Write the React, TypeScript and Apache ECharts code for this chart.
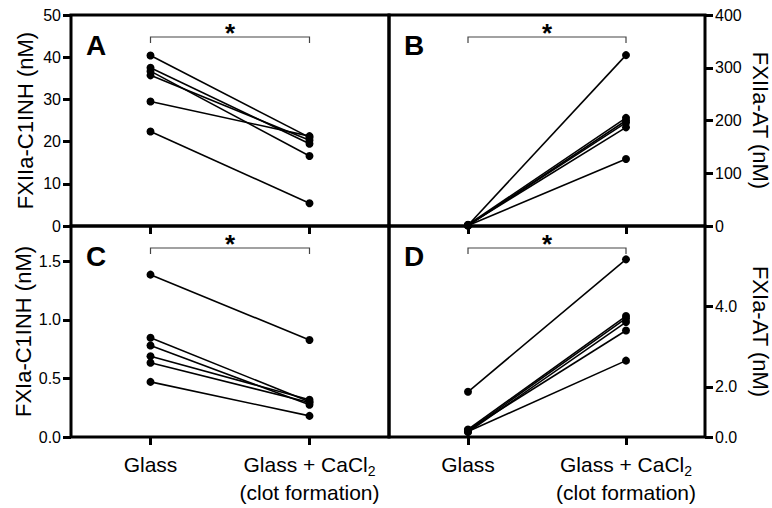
import React, { useEffect, useRef } from "react";
import * as echarts from "echarts";

// ---------- data ----------
const categories = ["Glass", "Glass + CaCl2\n(clot formation)"];

// Panel A: FXIIa-C1INH (nM)
const aGlass = [40.4, 37.5, 36.7, 35.7, 29.5, 22.4];
const aClot = [21.0, 19.5, 16.6, 20.3, 21.3, 5.4];
// Panel B: FXIIa-AT (nM)
const bGlass = [1.5, 2.5, 0.8, 1.2, 2.0, 1.0];
const bClot = [324, 205, 200, 196, 187, 127];
// Panel C: FXIa-C1INH (nM)
const cGlass = [1.385, 0.847, 0.781, 0.689, 0.633, 0.47];
const cClot = [0.827, 0.3, 0.275, 0.318, 0.294, 0.18];
// Panel D: FXIa-AT (nM) (two-segment axis: 0-2 compressed)
const dGlass = [1.8, 0.3, 0.25, 0.2, 0.28, 0.22];
const dClot = [5.17, 3.76, 3.7, 3.61, 3.4, 2.65];

const aTicks = [0, 10, 20, 30, 40, 50];
const bTicks = [0, 100, 200, 300, 400];
const cTicks = [0, 0.5, 1.0, 1.5];
const dTicks = [0, 2, 4];

const panelLetters = ["A", "B", "C", "D"];
const axisNames = ["FXIIa-C1INH (nM)", "FXIIa-AT (nM)", "FXIa-C1INH (nM)", "FXIa-AT (nM)"];

// ---------- two-segment axis for panel D (like GraphPad Prism) ----------
const D_BREAK = 2;
const D_LOW_FACTOR = 0.625; // lower segment 0..2 occupies 1.25 axis units
const dScale = (v: number) => (v <= D_BREAK ? v * D_LOW_FACTOR : D_BREAK * D_LOW_FACTOR + (v - D_BREAK));
const dInverse = (u: number) =>
  u <= D_BREAK * D_LOW_FACTOR ? u / D_LOW_FACTOR : u - D_BREAK * D_LOW_FACTOR + D_BREAK;

const FONT = "'Liberation Sans', Arial, Helvetica, sans-serif";

export default function App() {
  const ref = useRef<HTMLDivElement>(null);

  useEffect(() => {
    if (!ref.current) return;
    const chart = echarts.init(ref.current, undefined, { renderer: "svg" });

    const grids = [
      { left: 71, top: 15, width: 318, height: 211 },
      { left: 389, top: 15, width: 316, height: 211 },
      { left: 71, top: 226, width: 318, height: 211 },
      { left: 389, top: 226, width: 316, height: 211 },
    ].map((g) => ({
      ...g,
      show: true,
      borderColor: "#000",
      borderWidth: 3,
      backgroundColor: "transparent",
      outerBoundsMode: "none",
      containLabel: false,
    }));

    const xAxes = [0, 1, 2, 3].map((i) => ({
      type: "category",
      gridIndex: i,
      data: categories,
      boundaryGap: true,
      axisLine: { show: false },
      axisTick: { show: true, alignWithLabel: true, interval: 0, length: 8, lineStyle: { color: "#000", width: 3 } },
      axisLabel: {
        show: i >= 2,
        interval: 0,
        hideOverlap: false,
        color: "#000",
        fontFamily: FONT,
        fontSize: 21,
        lineHeight: 28,
        margin: 13,
        formatter: (v: string) => v.replace("CaCl2", "CaCl{sub|2}"),
        rich: {
          sub: { fontFamily: FONT, fontSize: 14, lineHeight: 14, verticalAlign: "bottom", color: "#000" },
        },
      },
      splitLine: { show: false },
    }));

    const ticksPer = [aTicks, bTicks, cTicks, dTicks.map(dScale)];
    const maxPer = [50, 400, 1.8, dScale(6)];
    const fmtPer = [
      (v: number) => String(v),
      (v: number) => String(v),
      (v: number) => v.toFixed(1),
      (v: number) => dInverse(v).toFixed(1),
    ];

    const yAxes = [0, 1, 2, 3].map((i) => {
      const right = i % 2 === 1;
      return {
        type: "value",
        gridIndex: i,
        position: right ? "right" : "left",
        min: 0,
        max: maxPer[i],
        axisLine: { show: false },
        splitLine: { show: false },
        axisTick: {
          show: true,
          length: 8,
          customValues: ticksPer[i],
          lineStyle: { color: "#000", width: 3 },
        },
        axisLabel: {
          color: "#000",
          fontFamily: FONT,
          fontSize: 16,
          margin: 10,
          customValues: ticksPer[i],
          formatter: fmtPer[i],
        },
        name: axisNames[i],
        nameLocation: "middle",
        nameGap: right ? 44 : 35,
        nameRotate: right ? -90 : 90,
        nameTextStyle: { color: "#000", fontFamily: FONT, fontSize: 22 },
      };
    });

    const panels = [
      [aGlass, aClot],
      [bGlass, bClot],
      [cGlass, cClot],
      [dGlass, dClot],
    ];

    const series: any[] = [];
    panels.forEach(([g, c], p) => {
      g.forEach((gv, k) => {
        const y0 = p === 3 ? dScale(gv) : gv;
        const y1 = p === 3 ? dScale(c[k]) : c[k];
        series.push({
          type: "line",
          xAxisIndex: p,
          yAxisIndex: p,
          data: [y0, y1],
          symbol: "circle",
          symbolSize: 8,
          showSymbol: true,
          lineStyle: { color: "#000", width: 1.6 },
          itemStyle: { color: "#000" },
          silent: true,
          clip: false,
          z: 3,
        });
      });
      // significance bracket + panel letter
      series.push({
        type: "custom",
        xAxisIndex: p,
        yAxisIndex: p,
        data: [[0, 0]],
        silent: true,
        clip: false,
        z: 4,
        renderItem: (params: any, api: any) => {
          const x0 = api.coord([0, 0])[0];
          const x1 = api.coord([1, 0])[0];
          const cs = params.coordSys;
          const y = cs.y + 22;
          return {
            type: "group",
            children: [
              {
                type: "polyline",
                shape: { points: [[x0, y + 6], [x0, y], [x1, y], [x1, y + 6]] },
                style: { stroke: "#444", lineWidth: 1.2, fill: null },
              },
              {
                type: "text",
                style: {
                  text: "*",
                  x: (x0 + x1) / 2,
                  y: y - 17,
                  align: "center",
                  verticalAlign: "top",
                  font: `bold 26px ${FONT}`,
                  fill: "#000",
                },
              },
              {
                type: "text",
                style: {
                  text: panelLetters[p],
                  x: cs.x + 15,
                  y: cs.y + 16,
                  align: "left",
                  verticalAlign: "top",
                  font: `bold 28px ${FONT}`,
                  fill: "#000",
                },
              },
            ],
          };
        },
      });
    });

    chart.setOption({
      animation: false,
      backgroundColor: "#fff",
      grid: grids,
      xAxis: xAxes,
      yAxis: yAxes,
      series,
    } as any);

    return () => chart.dispose();
  }, []);

  return (
    <div
      ref={ref}
      style={{ position: "fixed", left: 0, top: 0, width: 772, height: 508, background: "#fff" }}
    />
  );
}
